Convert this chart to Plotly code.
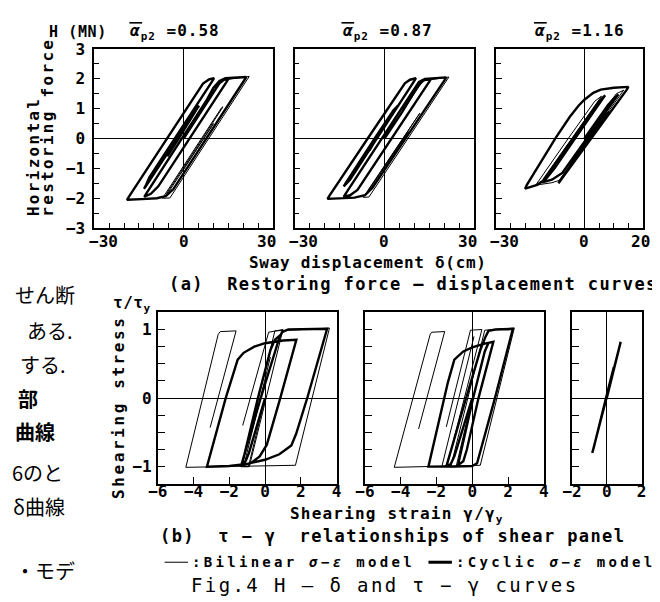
import plotly.graph_objects as go

# ---------------- DATA ----------------
# (a) Restoring force H (MN) vs sway displacement delta (cm)
alpha_labels = ["0.58", "0.87", "1.16"]

a1_cyc_d = [0, 5, 8.5, 10.5, 12, 13.5, 15, 14.4, 2, -8.5, -11, -13.2, -12.6, 0, 7.5, 10, 12, 14, 21,
            20.4, 7.6, -3.5, -6, -9, -14, -19, -18.4, -5.6, 4.5, 6.5, 8.5, 10.2, 9.6, -3, -11.5, -12.6, -13.3,
            -12.7, -2.2, 3.6, 5.2, 4.6, -2, -5.5]
a1_cyc_H = [0, 0.76, 1.3, 1.62, 1.85, 1.97, 2.0, 1.9, 0, -1.6, -1.85, -1.95, -1.85, 0.08, 1.25, 1.7, 1.93, 2.02, 2.06,
            1.96, 0, -1.7, -1.93, -2.0, -2.03, -2.05, -1.95, 0, 1.55, 1.84, 1.98, 2.02, 1.92, 0, -1.3, -1.55, -1.68,
            -1.6, 0, 0.9, 1.1, 1.02, -0.05, -0.6]
a1_bil_d = [0, 12.7, 22, -4.6, -7.1, 12.7, 13.2, -5.7, -5.1, 10, -1]
a1_bil_H = [0, 1.95, 2.08, -1.99, -2.0, 1.03, 1.06, -1.84, -1.8, 0.5, -1.18]

a2_cyc_d = [0, 6, 9, 11, 13, 15.5, 14.9, 2.3, -9, -11.5, -13.6, -13, -0.6, 7, 9.5, 11.5, 13.5, 20.6,
            20, 7, -4, -6.5, -10, -19, -18.4, -5.6, 4.5, 6.8, 8.5, 10.5, 9.9, -2.6, -11.5, -13.6,
            -13, -3, 3, 4.5, 3.9, -3, -5]
a2_cyc_H = [0, 0.9, 1.4, 1.75, 1.95, 2.0, 1.9, 0, -1.72, -1.9, -1.95, -1.85, 0.05, 1.2, 1.62, 1.9, 2.0, 2.05,
            1.95, 0, -1.65, -1.9, -1.98, -2.02, -1.92, 0, 1.5, 1.85, 1.97, 2.02, 1.92, 0, -1.38, -1.6,
            -1.5, 0.05, 0.95, 1.1, 1.0, -0.05, -0.4]
a2_bil_d = [0, 12.8, 21.5, -5.2, -7.1, 11.3, 11.8, -5.8, -5.2, 8, 7.5, -1]
a2_bil_H = [0, 1.93, 2.06, -1.96, -1.97, 0.8, 0.85, -1.8, -1.75, 0.23, 0.2, -1.08]

a3_cyc_d = [0, 5, 8, 10, 11.5, 10.9, 0.8, -7.5, -11, -14.3, -13.7, -4, 2, 5, 7, 6.4, -3.2, -10, -13, -16, -20.1,
            -19.5, -9.9, -5, -2, 0, 3, 5.5, 10, 14.9, 14.3, 2.3, -6, -8.8, -8.2, 1, 7, 8.5, 7.9, -1, -3]
a3_cyc_H = [0, 0.72, 1.12, 1.35, 1.48, 1.4, 0, -1.15, -1.38, -1.47, -1.36, 0, 0.85, 1.25, 1.45, 1.36, 0, -0.98,
            -1.35, -1.55, -1.68, -1.55, 0, 0.72, 1.1, 1.3, 1.53, 1.64, 1.7, 1.73, 1.63, 0, -1.14, -1.5, -1.4,
            -0.1, 0.75, 0.9, 0.82, -0.42, -0.7]
a3_bil_d = [0, 10.8, 13.3, 1.6, -8.5, -11, -16.5, -5.5, 3.5, 5.8, -4.2, -12]
a3_bil_H = [0, 1.5, 1.62, 0, -1.4, -1.48, -1.56, 0, 1.25, 1.42, 0, -1.1]

# (b) Shearing stress tau/tau_y vs shearing strain gamma/gamma_y  (None = pen lifted)
b1_cyc_g = [0, -0.6, -0.9, -1.1, -1.35, -0.3, 0.5, 0.8, 0.95, 1.3, 3.47, 2.38, 1.74, 1.47, 0.8, 0, -1, -2, -3.25,
            -2.2, -1.53, -1.2, -0.6, 0, 1, 1.75, 0.85, 0.1, -0.3, -0.8, -1.3, -0.4, 0.3, 0.55, 0.9]
b1_cyc_t = [0, -0.52, -0.8, -0.93, -1.0, -0.05, 0.65, 0.88, 0.96, 1.0, 1.01, 0.02, -0.52, -0.69, -0.82, -0.9,
            -0.96, -0.99, -1.0, 0, 0.56, 0.66, 0.75, 0.8, 0.84, 0.85, 0, -0.68, -0.85, -0.95, -0.98, 0, 0.7,
            0.85, 0.93]
b1_bil_g = [0, -0.93, -1.3, 0.55, 3.6, 1.7, -4.43, -2.62, -2.5, -1.62, -3.07, None,
            -1.25, 0.2, 1.0, -0.88, -1.2, 0.3]
b1_bil_t = [0, -1.0, -1.0, 0.98, 1.02, -0.98, -1.01, 0.93, 0.97, 0.98, -0.43, None,
            -0.4, 0.96, 1.0, -1.0, -1.0, 0.6]

b2_cyc_g = [0, -0.7, -1.0, -1.2, -1.45, -0.4, 0.45, 0.75, 0.91, 1.3, 2.27, 1.27, 0.45, 0.27, 0, -1, -2.45,
            -1.36, -1.0, -0.5, 0, 0.64, 1.18, 0.35, -0.3, -0.5, -0.8, 0.05, 0.7, 0.9]
b2_cyc_t = [0, -0.6, -0.85, -0.96, -1.0, -0.05, 0.7, 0.9, 0.98, 1.0, 1.01, 0, -0.8, -0.95, -0.99, -1.0, -1.0,
            0.23, 0.56, 0.68, 0.74, 0.79, 0.82, 0, -0.75, -0.92, -0.98, 0, 0.68, 0.8]
b2_bil_g = [0, -0.9, -1.2, 0.7, 2.35, 0.45, -4.36, -2.35, -2.27, -1.54, -3.0, None,
            -1.45, -0.1, 0.54, -1.4, -1.7, 0.1]
b2_bil_t = [0, -1.0, -1.0, 0.99, 1.02, -0.98, -1.01, 0.93, 0.96, 0.97, -0.45, None,
            -0.42, 0.99, 1.0, -0.98, -1.0, 0.9]

b3_cyc_g = [0, 0.8, 0.72, 0.02, -0.84, -0.76, 0.05, 0.4]
b3_cyc_t = [0, 0.82, 0.75, 0.04, -0.8, -0.73, 0.1, 0.45]
b3_bil_g = [0, 0.78, -0.82, 0.3]
b3_bil_t = [0, 0.8, -0.79, 0.36]

# tick labels
top_x_ticks = [[-30, 0, 30], [-30, 0, 30], [-30, 0, 20]]
top_y_ticks = [-3, -2, -1, 0, 1, 2, 3]
bot_x_ticks = [[-6, -4, -2, 0, 2, 4], [-6, -4, -2, 0, 2, 4], [-2, 0, 2]]
bot_y_ticks = [-1, 0, 1]

# ---------------- FIGURE ----------------
W, H = 660, 602
MONO = "DejaVu Sans Mono"
JP = "Noto Sans CJK JP"
NB = "\u00a0"


def fx(p):
    return p / W


def fy(p):
    return 1 - p / H


def lab(v):
    return ("%g" % v).replace("-", "\u2212")


def sub(t, size):
    return '<span style="font-size:%dpx;baseline-shift:-4px">%s</span>' % (size, t)


fig = go.Figure()

panels = [
    ((a1_bil_d, a1_bil_H), (a1_cyc_d, a1_cyc_H), (78, 261), (33, 218), (-30, 30), (-3, 3), "a", 0),
    ((a2_bil_d, a2_bil_H), (a2_cyc_d, a2_cyc_H), (283, 467), (33, 218), (-30, 30), (-3, 3), "a", 1),
    ((a3_bil_d, a3_bil_H), (a3_cyc_d, a3_cyc_H), (489, 640), (33, 218), (-30, 20), (-3, 3), "a", 2),
    ((b1_bil_g, b1_bil_t), (b1_cyc_g, b1_cyc_t), (143, 326), (305, 482), (-6, 4), (-1.25, 1.25), "b", 0),
    ((b2_bil_g, b2_bil_t), (b2_cyc_g, b2_cyc_t), (355, 538), (305, 482), (-6, 4), (-1.25, 1.25), "b", 1),
    ((b3_bil_g, b3_bil_t), (b3_cyc_g, b3_cyc_t), (567, 638), (305, 482), (-2, 2), (-1.25, 1.25), "b", 2),
]

tickfont = dict(family=MONO, size=16, color="black", weight="bold")
ann = []
layout_axes = {}
for n, (thin, thick, xd, yd, xr, yr, kind, idx) in enumerate(panels, start=1):
    xa = "x" if n == 1 else "x%d" % n
    ya = "y" if n == 1 else "y%d" % n
    fig.add_trace(go.Scatter(x=thin[0], y=thin[1], xaxis=xa, yaxis=ya, mode="lines",
                             line=dict(color="black", width=1), hoverinfo="skip", showlegend=False))
    fig.add_trace(go.Scatter(x=thick[0], y=thick[1], xaxis=xa, yaxis=ya, mode="lines",
                             line=dict(color="black", width=2.4), hoverinfo="skip", showlegend=False))
    common = dict(showline=True, linecolor="black", linewidth=1.6, mirror=True, showgrid=False,
                  zeroline=True, zerolinecolor="black", zerolinewidth=1.3, ticks="inside",
                  tickcolor="black", tickwidth=1.3, tickfont=tickfont, fixedrange=True)
    if kind == "a":
        labs = top_x_ticks[idx]
        xax = dict(common, domain=[fx(xd[0]), fx(xd[1])], range=list(xr), anchor=ya,
                   tickvals=labs, showticklabels=False, ticklen=6,
                   minor=dict(dtick=5, tick0=0, ticks="inside", ticklen=5, tickcolor="black", tickwidth=1.2))
        # tick labels placed on the axis scale; end labels sit inward as in the original
        for v in labs:
            shift = 9 if v == xr[0] else (-7 if v == xr[1] and v == 30 else (-3 if v == xr[1] else 0))
            ann.append(dict(text=lab(v), x=v, xref=xa, y=fy(232), yref="paper", showarrow=False,
                            xanchor="center", yanchor="middle", xshift=shift, font=tickfont))
        yax = dict(common, domain=[fy(yd[1]), fy(yd[0])], range=list(yr), anchor=xa,
                   tickvals=top_y_ticks, ticktext=[lab(v) for v in top_y_ticks], ticklen=6,
                   showticklabels=(idx == 0), ticklabelstandoff=4,
                   minor=dict(dtick=0.5, tick0=0, ticks="inside", ticklen=5, tickcolor="black", tickwidth=1.2))
    else:
        labs = bot_x_ticks[idx]
        xax = dict(common, domain=[fx(xd[0]), fx(xd[1])], range=list(xr), anchor=ya,
                   tickvals=labs, ticktext=[lab(v) for v in labs], ticklen=7, ticklabelstandoff=-8)
        yax = dict(common, domain=[fy(yd[1]), fy(yd[0])], range=list(yr), anchor=xa,
                   tickvals=bot_y_ticks, ticktext=[lab(v) for v in bot_y_ticks], ticklen=7,
                   showticklabels=(idx == 0), ticklabelstandoff=1,
                   minor=dict(dtick=0.25, tick0=0, ticks="inside", ticklen=7, tickcolor="black", tickwidth=1.2))
    layout_axes["xaxis" if n == 1 else "xaxis%d" % n] = xax
    layout_axes["yaxis" if n == 1 else "yaxis%d" % n] = yax

fig.update_layout(**layout_axes)


def sp(text, ls):
    return '<span style="letter-spacing:%spx">%s</span>' % (ls, text)


def add(text, x, y, size, ls=0.0, bold=True, family=MONO, angle=0, xanchor="center"):
    ann.append(dict(text=sp(text, ls) if ls else text, x=fx(x), y=fy(y), xref="paper", yref="paper",
                    showarrow=False, xanchor=xanchor, yanchor="middle", textangle=angle,
                    font=dict(family=family, size=size, color="black", weight="bold" if bold else "normal")))


shapes = []
add("H" + NB + "(MN)", 61, 16, 15, 0.6)
for x0, a in zip([113, 330, 527], alpha_labels):
    add("<i>\u03b1</i>" + sub("p2", 11) + NB + "=" + a, x0, 16, 16, 1.0, xanchor="left")
    shapes.append(dict(type="line", xref="paper", yref="paper", x0=fx(x0 + 1), x1=fx(x0 + 14),
                       y0=fy(6), y1=fy(6), line=dict(color="black", width=1.6)))
add("Horizontal", 16, 144, 16, 2.3, angle=-90)
add("restoring" + NB + "force", 30, 114, 16, 2.3, angle=-90)
add("Sway displacement \u03b4(cm)", 358, 254, 16, 0.7)
add("(a)" + NB + NB + "Restoring force \u2014 displacement curves", 405, 276, 17, 1.4)
add("\u03c4/\u03c4" + sub("y", 11), 117, 296, 16, 0.5)
add("Shearing" + NB + "stress", 103, 403, 16, 2.6, angle=-90)
add("Shearing strain \u03b3/\u03b3" + sub("y", 11), 388, 514, 16, 1.2)
add("(b)" + NB + NB + "\u03c4 \u2212 \u03b3" + NB + NB + "relationships of shear panel", 383, 536, 17, 1.4)
add(":Bilinear <i>\u03c3\u2212\u03b5</i> model", 176, 563, 14, 3.3, xanchor="left")
add(":Cyclic <i>\u03c3\u2212\u03b5</i> model", 446, 563, 14, 3.3, xanchor="left")
add("Fig.4 H \u2014 \u03b4 and \u03c4 \u2212 \u03b3 curves", 376, 587, 19, 2.4, bold=False)

# Japanese body text at the left page edge
jp_lines = [("せん断", 60, 287, False), ("ある.", 58, 324, False), ("する.", 51, 359, False),
            ("部", 22, 394, True), ("曲線", 40, 428, True), ("6のと", 48, 470, False),
            ("δ曲線", 50, 505, False), ("・モデ", 60, 572, False)]
for t, rx, cy, b in jp_lines:
    add(t, rx, cy, 20, 0, bold=b, family=JP, xanchor="right")

shapes += [
    dict(type="line", xref="paper", yref="paper", x0=fx(150), x1=fx(174), y0=fy(563), y1=fy(563),
         line=dict(color="black", width=1)),
    dict(type="line", xref="paper", yref="paper", x0=fx(420), x1=fx(444), y0=fy(563), y1=fy(563),
         line=dict(color="black", width=3)),
]

fig.update_layout(width=W, height=H, margin=dict(l=0, r=0, t=0, b=0), paper_bgcolor="white",
                  plot_bgcolor="white", showlegend=False, annotations=ann, shapes=shapes)

fig.write_html("out.html")
